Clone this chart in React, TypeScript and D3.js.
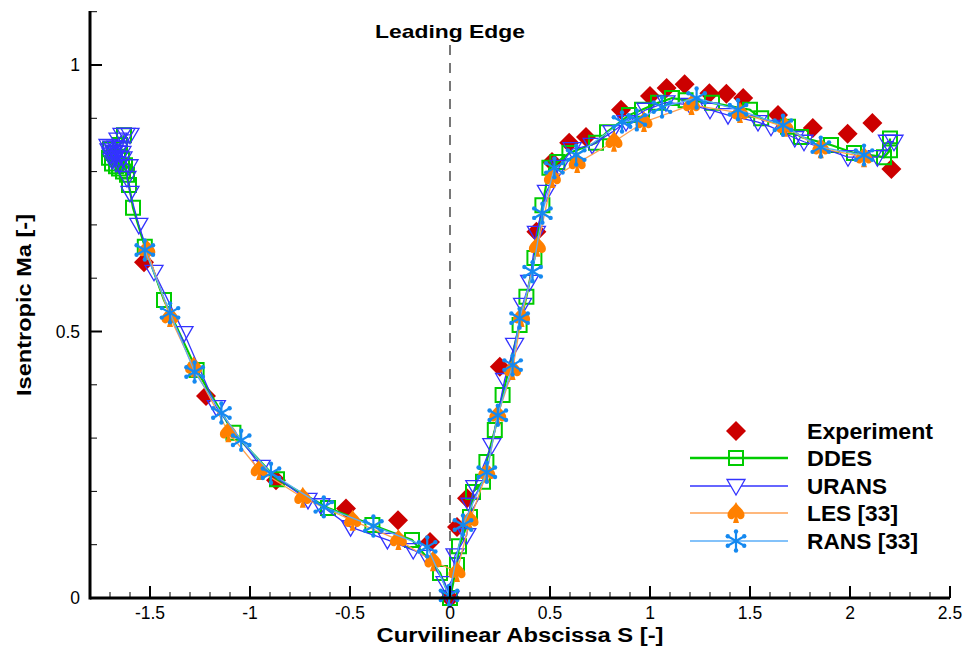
import React from "react";
import * as d3 from "d3";

type P = [number, number];

const xTicks = [-1.5, -1, -0.5, 0, 0.5, 1, 1.5, 2, 2.5];
const xTickLabels = ["-1.5", "-1", "-0.5", "0", "0.5", "1", "1.5", "2", "2.5"];
const yTicks = [0, 0.5, 1];
const yTickLabels = ["0", "0.5", "1"];

const experiment: P[] = [
  [-1.53, 0.63], [-1.22, 0.379], [-0.87, 0.221], [-0.52, 0.168], [-0.26, 0.146],
  [-0.1, 0.105], [0, 0.0], [0.035, 0.133], [0.085, 0.187], [0.249, 0.434],
  [0.432, 0.687], [0.51, 0.818], [0.596, 0.854], [0.68, 0.865], [0.855, 0.916],
  [1.0, 0.942], [1.083, 0.957], [1.173, 0.964], [1.297, 0.947], [1.382, 0.946],
  [1.466, 0.938], [1.64, 0.906], [1.814, 0.882], [1.988, 0.871], [2.112, 0.891],
  [2.207, 0.805],
];

const ddes: P[] = [
  [-1.63, 0.868], [-1.65, 0.85], [-1.7, 0.842], [-1.705, 0.826], [-1.69, 0.815],
  [-1.68, 0.835], [-1.67, 0.81], [-1.66, 0.828], [-1.655, 0.806], [-1.64, 0.822],
  [-1.635, 0.8], [-1.625, 0.812], [-1.615, 0.794], [-1.605, 0.775], [-1.585, 0.732],
  [-1.526, 0.659], [-1.43, 0.559], [-1.267, 0.428], [-1.083, 0.31], [-0.865, 0.223],
  [-0.61, 0.169], [-0.388, 0.137], [-0.19, 0.109], [-0.05, 0.047], [0, 0],
  [0.035, 0.062], [0.045, 0.097], [0.1, 0.152], [0.115, 0.199], [0.165, 0.218],
  [0.182, 0.255], [0.224, 0.315], [0.263, 0.381], [0.348, 0.512], [0.382, 0.565],
  [0.422, 0.638], [0.462, 0.737], [0.497, 0.807], [0.537, 0.818], [0.597, 0.835],
  [0.73, 0.854], [0.785, 0.874], [0.895, 0.906], [0.96, 0.916], [1.04, 0.929],
  [1.11, 0.938], [1.178, 0.934], [1.31, 0.929], [1.5, 0.916], [1.556, 0.9],
  [1.69, 0.884], [1.755, 0.865], [1.905, 0.85], [2.02, 0.835], [2.17, 0.827],
  [2.2, 0.84], [2.2, 0.862],
];

const urans: P[] = [
  [-1.6, 0.869], [-1.62, 0.869], [-1.64, 0.869], [-1.66, 0.86], [-1.71, 0.848],
  [-1.705, 0.84], [-1.695, 0.832], [-1.69, 0.822], [-1.69, 0.845], [-1.68, 0.836],
  [-1.675, 0.826], [-1.67, 0.816], [-1.67, 0.845], [-1.66, 0.836], [-1.655, 0.826],
  [-1.65, 0.815], [-1.65, 0.845], [-1.64, 0.835], [-1.635, 0.825], [-1.605, 0.81],
  [-1.615, 0.788], [-1.6, 0.76], [-1.556, 0.7], [-1.48, 0.612], [-1.33, 0.497],
  [-1.168, 0.358], [-0.944, 0.246], [-0.71, 0.184], [-0.646, 0.174], [-0.497, 0.133],
  [-0.313, 0.109], [-0.184, 0.09], [-0.114, 0.077], [-0.025, 0.028], [0, 0],
  [0.025, 0.08], [0.084, 0.118], [0.1, 0.175], [0.124, 0.208], [0.209, 0.287],
  [0.273, 0.409], [0.323, 0.475], [0.363, 0.55], [0.398, 0.593], [0.432, 0.685],
  [0.482, 0.762], [0.547, 0.809], [0.611, 0.842], [0.711, 0.85], [0.81, 0.874],
  [0.88, 0.893], [0.98, 0.916], [1.08, 0.93], [1.2, 0.925], [1.3, 0.916],
  [1.39, 0.906], [1.54, 0.893], [1.605, 0.884], [1.724, 0.863], [1.77, 0.856],
  [1.99, 0.827], [2.137, 0.827], [2.187, 0.856], [2.22, 0.856],
];

const les: P[] = [
  [-1.516, 0.653], [-1.4, 0.527], [-1.282, 0.433], [-1.108, 0.311], [-0.954, 0.24],
  [-0.736, 0.188], [-0.487, 0.145], [-0.258, 0.109], [-0.085, 0.069], [0.035, 0.049],
  [0.1, 0.146], [0.184, 0.235], [0.239, 0.343], [0.313, 0.428], [0.358, 0.527],
  [0.437, 0.659], [0.512, 0.788], [0.636, 0.816], [0.82, 0.856], [0.97, 0.893],
  [1.208, 0.925], [1.45, 0.91], [1.675, 0.884], [1.854, 0.844], [2.07, 0.827],
];

const rans: P[] = [
  [-1.526, 0.653], [-1.4, 0.535], [-1.277, 0.424], [-1.143, 0.347], [-1.044, 0.296],
  [-0.895, 0.234], [-0.631, 0.171], [-0.383, 0.135], [-0.114, 0.096], [-0.005, 0.005],
  [0.065, 0.137], [0.184, 0.236], [0.239, 0.343], [0.313, 0.437], [0.348, 0.525],
  [0.413, 0.612], [0.462, 0.722], [0.522, 0.807], [0.631, 0.831], [0.86, 0.893],
  [0.934, 0.897], [1.06, 0.921], [1.233, 0.938], [1.44, 0.916], [1.665, 0.887],
  [1.854, 0.846], [2.07, 0.831],
];

const legendLabels = ["Experiment", "DDES", "URANS", "LES [33]", "RANS [33]"];
const legendWidths = [126, 65, 80, 91, 111];

const W = 965;
const H = 648;
const x = d3.scaleLinear().domain([-1.8, 2.5]).range([90, 950]);
const y = d3.scaleLinear().domain([0, 1.1]).range([598, 11.7]);

const FONT = "'Liberation Sans', Arial, Helvetica, sans-serif";

const RED = "#CC0000";
const GREEN = "#00CC00";
const BLUE = "#3333FF";
const ORANGE = "#FF8000";
const ORANGE_LINE = "#FFA050";
const AST = "#1589F0";
const AST_LINE = "#5AAEF8";

const diamondPath = "M0,-10 L10,0 L0,10 L-10,0 Z";
const squarePath = "M-7,-7 L7,-7 L7,7 L-7,7 Z";
const triPath = "M-9,-6.5 L9,-6.5 L0,9 Z";
const spadePath =
  "M0,-11 C2,-6 9,-3 8.5,2.5 C8,7 3,7.5 1.2,4 L3,10 L-3,10 L-1.2,4 C-3,7.5 -8,7 -8.5,2.5 C-9,-3 -2,-6 0,-11 Z";

function Asterisk({ cx, cy }: { cx: number; cy: number }) {
  const r = 9.5;
  const angles = [90, 270, 30, 150, 210, 330];
  return (
    <g transform={`translate(${cx},${cy})`}>
      {angles.map((a, i) => {
        const ex = r * Math.cos((a * Math.PI) / 180);
        const ey = -r * Math.sin((a * Math.PI) / 180);
        return (
          <g key={i}>
            <line x1={0} y1={0} x2={ex} y2={ey} stroke={AST} strokeWidth={2.2} />
            <circle cx={ex} cy={ey} r={2.2} fill={AST} />
          </g>
        );
      })}
    </g>
  );
}

const line = d3
  .line<P>()
  .x((d) => x(d[0]))
  .y((d) => y(d[1]));

export default function App() {
  const xMinor = d3.range(-17, 26).map((i) => i / 10);
  const yMinor = d3.range(0, 12).map((i) => i / 10);
  const legX = 736;
  const legRows = [431, 458, 486, 513, 541];

  return (
    <svg width={W} height={H} style={{ position: "absolute", left: 0, top: 0, background: "#fff" }}>
      <rect x={0} y={0} width={W} height={H} fill="#fff" />
      <line x1={x(0)} x2={x(0)} y1={45} y2={598} stroke="#777" strokeWidth={2} strokeDasharray="10,8" />
      <text x={x(0)} y={38} textAnchor="middle" fontFamily={FONT} fontWeight="bold" fontSize={19} textLength={150} lengthAdjust="spacingAndGlyphs">
        Leading Edge
      </text>

      {experiment.map((d, i) => (
        <path key={"e" + i} d={diamondPath} transform={`translate(${x(d[0])},${y(d[1])})`} fill={RED} />
      ))}

      <path d={line(ddes) || ""} fill="none" stroke={GREEN} strokeWidth={2.2} />
      {ddes.map((d, i) => (
        <path key={"d" + i} d={squarePath} transform={`translate(${x(d[0])},${y(d[1])})`} fill="none" stroke={GREEN} strokeWidth={2} />
      ))}

      <path d={line(urans) || ""} fill="none" stroke={BLUE} strokeWidth={1.3} />
      {urans.map((d, i) => (
        <path key={"u" + i} d={triPath} transform={`translate(${x(d[0])},${y(d[1])})`} fill="none" stroke={BLUE} strokeWidth={1.3} />
      ))}

      <path d={line(les) || ""} fill="none" stroke={ORANGE_LINE} strokeWidth={1.3} />
      {les.map((d, i) => (
        <path key={"l" + i} d={spadePath} transform={`translate(${x(d[0])},${y(d[1])})`} fill={ORANGE} />
      ))}

      <path d={line(rans) || ""} fill="none" stroke={AST_LINE} strokeWidth={1.3} />
      {rans.map((d, i) => (
        <Asterisk key={"r" + i} cx={x(d[0])} cy={y(d[1])} />
      ))}

      {xMinor.map((t, i) => (
        <line key={"xm" + i} x1={x(t)} x2={x(t)} y1={598} y2={592} stroke="#000" strokeWidth={1} />
      ))}
      {xTicks.map((t, i) => (
        <line key={"xM" + i} x1={x(t)} x2={x(t)} y1={598} y2={586} stroke="#000" strokeWidth={2} />
      ))}
      {yMinor.map((t, i) => (
        <line key={"ym" + i} x1={90} x2={97} y1={y(t)} y2={y(t)} stroke="#000" strokeWidth={1} />
      ))}
      {yTicks.map((t, i) => (
        <line key={"yM" + i} x1={90} x2={102} y1={y(t)} y2={y(t)} stroke="#000" strokeWidth={2} />
      ))}
      <line x1={90} x2={950} y1={598} y2={598} stroke="#000" strokeWidth={3} />
      <line x1={90} x2={90} y1={11} y2={599.5} stroke="#000" strokeWidth={3} />

      {xTicks.map((t, i) => (
        <text key={"xl" + i} x={x(t)} y={619} textAnchor="middle" fontFamily={FONT} fontSize={17.5}>
          {xTickLabels[i]}
        </text>
      ))}
      {yTicks.map((t, i) => (
        <text key={"yl" + i} x={80} y={y(t) + 6} textAnchor="end" fontFamily={FONT} fontSize={17.5}>
          {yTickLabels[i]}
        </text>
      ))}

      <text x={520} y={642} textAnchor="middle" fontFamily={FONT} fontWeight="bold" fontSize={20} textLength={287} lengthAdjust="spacingAndGlyphs">
        Curvilinear Abscissa S [-]
      </text>
      <text transform={`translate(31,305) rotate(-90)`} textAnchor="middle" fontFamily={FONT} fontWeight="bold" fontSize={21} textLength={182} lengthAdjust="spacingAndGlyphs">
        Isentropic Ma [-]
      </text>

      <g>
        <path d={diamondPath} transform={`translate(${legX},${legRows[0]})`} fill={RED} />
        <line x1={690} x2={788} y1={legRows[1]} y2={legRows[1]} stroke={GREEN} strokeWidth={2.5} />
        <path d={squarePath} transform={`translate(${legX},${legRows[1]})`} fill="none" stroke={GREEN} strokeWidth={2} />
        <line x1={690} x2={788} y1={legRows[2]} y2={legRows[2]} stroke={BLUE} strokeWidth={1.3} />
        <path d={triPath} transform={`translate(${legX},${legRows[2]})`} fill="#fff" stroke={BLUE} strokeWidth={1.3} />
        <line x1={690} x2={788} y1={legRows[3]} y2={legRows[3]} stroke={ORANGE_LINE} strokeWidth={1.3} />
        <path d={spadePath} transform={`translate(${legX},${legRows[3]})`} fill={ORANGE} />
        <line x1={690} x2={788} y1={legRows[4]} y2={legRows[4]} stroke={AST_LINE} strokeWidth={1.3} />
        <Asterisk cx={legX} cy={legRows[4]} />
        {legendLabels.map((l, i) => (
          <text key={"lg" + i} x={807} y={legRows[i] + 8} fontFamily={FONT} fontWeight="bold" fontSize={22} textLength={legendWidths[i]} lengthAdjust="spacingAndGlyphs">
            {l}
          </text>
        ))}
      </g>
    </svg>
  );
}
